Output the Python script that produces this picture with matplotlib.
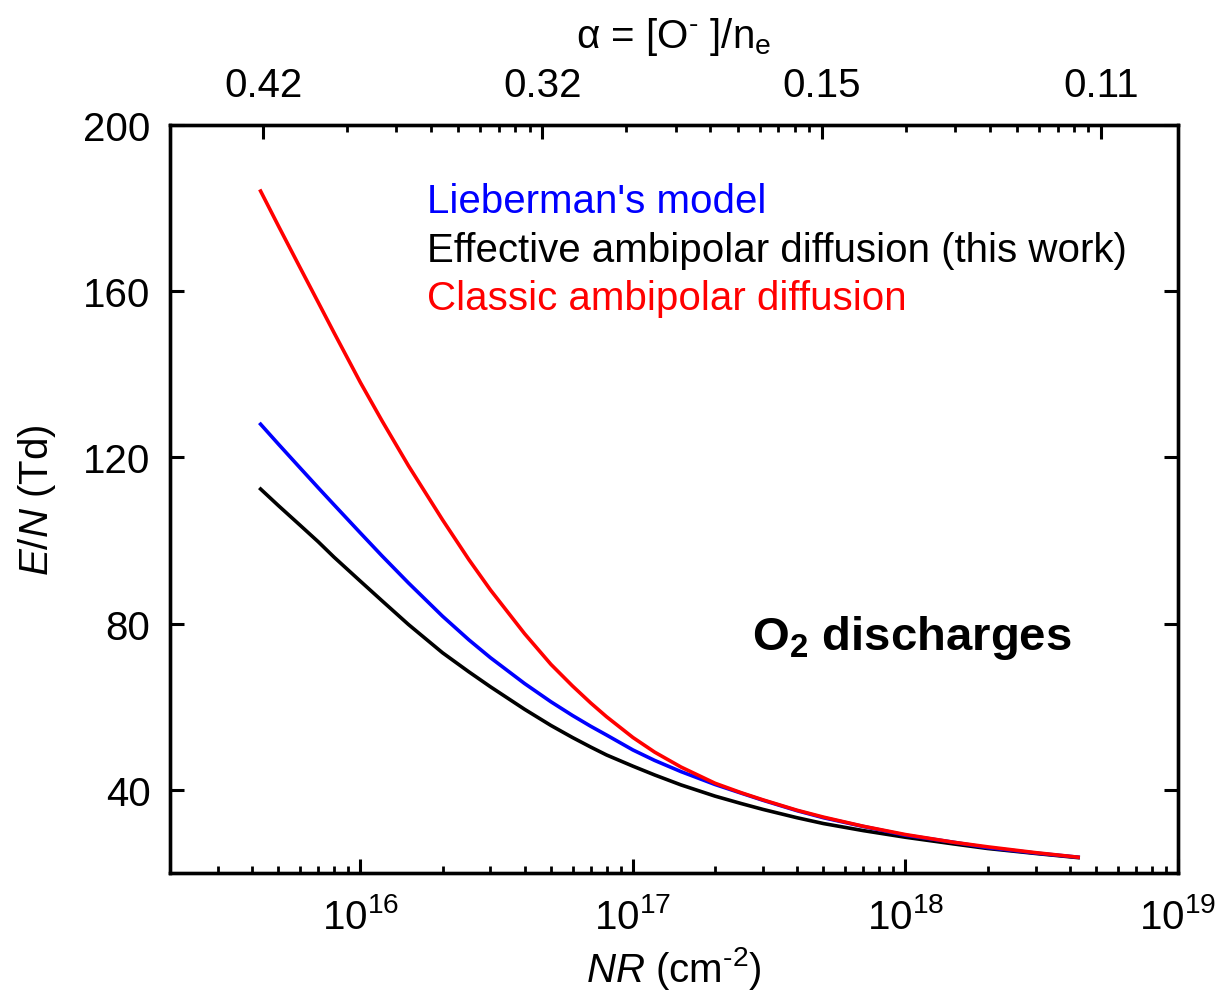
import matplotlib
matplotlib.use("Agg")
import matplotlib.pyplot as plt
from matplotlib.ticker import FixedLocator, FixedFormatter, NullFormatter, LogLocator

# Reduced electric field versus NR for O2 discharges
nr = [4.3e15, 5e15, 6e15, 7e15, 8e15, 1e16, 1.2e16, 1.5e16, 2e16, 2.5e16,
      3e16, 4e16, 5e16, 6e16, 7e16, 8e16, 1e17, 1.2e17, 1.5e17, 2e17,
      2.5e17, 3e17, 4e17, 5e17, 7e17, 1e18, 1.5e18, 2e18, 3e18, 4.3e18]
lieberman = [128.0, 123.2, 117.5, 112.7, 108.6, 101.8, 96.3, 89.8, 81.8, 76.1,
             71.8, 65.6, 61.2, 57.9, 55.3, 53.2, 49.6, 47.1, 44.4, 41.3,
             39.2, 37.5, 35.0, 33.3, 31.2, 29.1, 27.4, 26.1, 24.8, 23.8]
effective = [112.4, 108.4, 103.7, 99.7, 96.0, 90.2, 85.5, 79.8, 73.0, 68.4,
             64.8, 59.4, 55.5, 52.6, 50.3, 48.4, 45.7, 43.6, 41.2, 38.5,
             36.7, 35.3, 33.3, 31.9, 30.2, 28.6, 27.0, 25.9, 24.7, 23.7]
classic = [184.1, 175.7, 165.7, 157.3, 150.0, 138.0, 128.8, 118.0, 105.0, 95.4,
           88.1, 77.6, 70.2, 65.0, 60.9, 57.6, 52.6, 49.1, 45.5, 41.6,
           39.3, 37.6, 35.1, 33.45, 31.25, 29.25, 27.4, 26.3, 24.9, 23.8]

series_labels = ["Lieberman's model",
                 "Effective ambipolar diffusion (this work)",
                 "Classic ambipolar diffusion"]
series_colors = ["#0000ff", "#000000", "#ff0000"]

y_ticks = [40, 80, 120, 160, 200]
alpha_tick_pos = [1e16, 1e17, 1e18, 1e19]
alpha_tick_labels = ["0.42", "0.32", "0.15", "0.11"]

plt.rcParams["font.family"] = ["Liberation Sans", "DejaVu Sans"]
plt.rcParams["mathtext.fontset"] = "custom"
plt.rcParams["mathtext.rm"] = "Liberation Sans"
plt.rcParams["mathtext.it"] = "Liberation Sans:italic"
plt.rcParams["mathtext.bf"] = "Liberation Sans:bold"

FS = 29
LW = 2.6
W, H = 1218, 995
fig = plt.figure(figsize=(W / 100, H / 100), dpi=100)
ax = fig.add_axes([170 / W, 1 - 874 / H, 1008 / W, 748 / H])

ax.plot(nr, effective, color=series_colors[1], lw=LW, zorder=3,
        solid_joinstyle="round")
ax.plot(nr, lieberman, color=series_colors[0], lw=LW, zorder=4,
        solid_joinstyle="round")
ax.plot(nr, classic, color=series_colors[2], lw=LW, zorder=5,
        solid_joinstyle="round")

ax.set_xscale("log")
ax.set_xlim(2e15, 1e19)
ax.set_ylim(20, 200)
ax.set_yticks(y_ticks)
ax.xaxis.set_minor_locator(LogLocator(base=10, subs=range(2, 10)))
ax.xaxis.set_minor_formatter(NullFormatter())

for s in ax.spines.values():
    s.set_linewidth(2.4)

ax.tick_params(which="major", direction="in", length=10, width=2.2,
               labelsize=FS, top=False, right=True)
ax.tick_params(which="minor", direction="in", length=5, width=2.0,
               top=False, right=True)
ax.tick_params(axis="y", pad=14)
ax.tick_params(axis="x", pad=17)

ax.set_xlabel(r"$\it{NR}$ (cm$^{\text{-2}}$)", fontsize=FS, labelpad=6)
ax.set_ylabel(r"$\it{E/N}$ (Td)", fontsize=FS, labelpad=18)

# Secondary scale: electronegativity alpha
ax_top = ax.twiny()
ax_top.set_xscale("log")
ax_top.set_xlim(10 ** 15.667, 10 ** 19.276)
ax_top.xaxis.set_major_locator(FixedLocator(alpha_tick_pos))
ax_top.xaxis.set_major_formatter(FixedFormatter(alpha_tick_labels))
ax_top.xaxis.set_minor_locator(FixedLocator(
    [k * 10.0 ** d for d in (16, 17, 18) for k in range(2, 10)]))
ax_top.xaxis.set_minor_formatter(NullFormatter())
ax_top.tick_params(which="major", direction="in", length=10, width=2.2,
                   labelsize=FS, pad=15)
ax_top.tick_params(which="minor", direction="in", length=5, width=2.0)
ax_top.set_xlabel("\u03b1 = [O$^{\\text{-}}$ ]/n$_{\\rm e}$", fontsize=FS,
                  labelpad=14)
for s in ax_top.spines.values():
    s.set_linewidth(2.4)

# Curve labels
label_y = [0.884, 0.818, 0.754]
for text, color, yy in zip(series_labels, series_colors, label_y):
    ax.text(0.255, yy, text, color=color, fontsize=FS,
            transform=ax.transAxes, va="baseline", ha="left")

ax.text(0.577, 0.30, r"O$_{\mathbf{2}}$ discharges", fontsize=34,
        fontweight="bold", transform=ax.transAxes, va="baseline", ha="left")

fig.savefig("out.png", dpi=100)
